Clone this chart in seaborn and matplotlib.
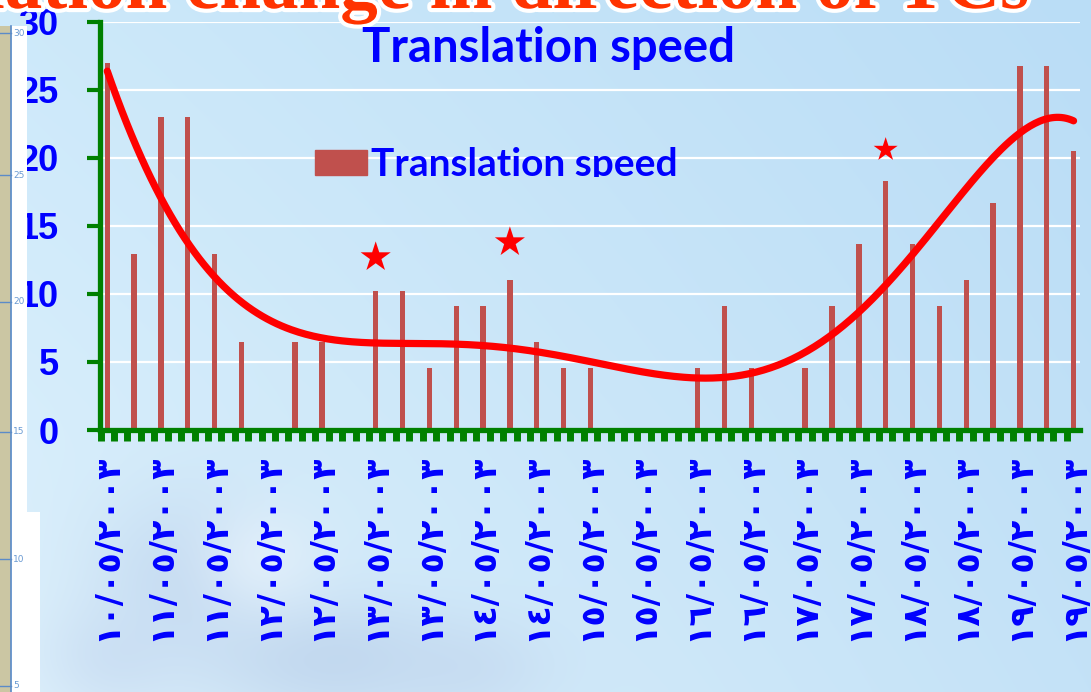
import numpy as np
import pandas as pd
import matplotlib
matplotlib.use("Agg")
import matplotlib.pyplot as plt
import matplotlib.patheffects as pe
import seaborn as sns
from matplotlib.patches import Patch, Rectangle
from matplotlib.lines import Line2D
from matplotlib.transforms import Affine2D, Bbox, TransformedBbox

# ---------------------------------------------------------------- data
# 6-hourly translation speed; None = no observation
speed = [27.0, 12.9, 23.0, 23.0, 12.9, 6.44, None, 6.44, 6.44, None,
         10.22, 10.22, 4.55, 9.14, 9.14, 11.0, 6.44, 4.55, 4.55, None,
         None, None, 4.55, 9.14, 4.55, None, 4.55, 9.14, 13.7, 18.3,
         13.7, 9.14, 11.03, 16.7, 26.77, 26.77, 20.49]

# day of month for every second slot (May 2003)
tick_days = [10, 11, 11, 12, 12, 13, 13, 14, 14, 15,
             15, 16, 16, 17, 17, 18, 18, 19, 19]

# highlighted slots
star_slots = [10, 15, 29]
star_values = [12.7, 13.8, 20.6]

series_name = "Translation speed"
chart_title = "Translation speed"
slide_title = "Translation change in direction of TCs"

AR_DIGITS = str.maketrans("0123456789", "٠١٢٣٤٥٦٧٨٩")
tick_labels = [f"{d:02d}/05/2003".translate(AR_DIGITS) for d in tick_days]

# ---------------------------------------------------------------- figure
W, H = 1091, 692
fig = plt.figure(figsize=(W / 100, H / 100), dpi=100)
pix = Affine2D().scale(1 / W, -1 / H).translate(0, 1) + fig.transFigure

# sky background
bg = fig.add_axes([0, 0, 1, 1], zorder=-10)
bg.set_axis_off()
u, v = np.meshgrid(np.linspace(0, 1, W), np.linspace(0, 1, H))
tl = np.array([205, 233, 250]) / 255
tr = np.array([186, 221, 246]) / 255
bl = np.array([222, 241, 252]) / 255
br = np.array([196, 226, 247]) / 255
img = ((1 - u)[..., None] * (1 - v)[..., None] * tl + u[..., None] * (1 - v)[..., None] * tr
       + (1 - u)[..., None] * v[..., None] * bl + u[..., None] * v[..., None] * br)
px_x, px_y = u * W, v * H
for cx, cy, sx, sy, col, a in [(190, 575, 70, 60, (182, 204, 233), 0.5),
                               (330, 660, 90, 45, (180, 202, 231), 0.55),
                               (470, 670, 60, 35, (192, 212, 237), 0.45),
                               (110, 660, 50, 40, (192, 212, 238), 0.45),
                               (260, 560, 45, 40, (235, 245, 253), 0.6)]:
    g = a * np.exp(-(((px_x - cx) / sx) ** 2 + ((px_y - cy) / sy) ** 2) / 2)
    img = img * (1 - g[..., None]) + np.array(col)[None, None, :] / 255 * g[..., None]
bg.imshow(np.clip(img, 0, 1), extent=(0, 1, 0, 1), aspect="auto", origin="upper")

# strip of a neighbouring map on the left edge
fig.add_artist(Rectangle((0, 26), 11, H - 26, transform=pix, color="#CBC6A3", lw=0))
fig.add_artist(Rectangle((12, 26), 15, 486, transform=pix, color="white", lw=0))
fig.add_artist(Rectangle((12, 512), 28, H - 512, transform=pix, color="white", lw=0))
fig.add_artist(Line2D([11, 11], [26, H], transform=pix, color="#5B8BC8", lw=1.2))
for yy, lab in zip([33, 175, 302, 432, 559, 686], ["30", "25", "20", "15", "10", "5"]):
    fig.add_artist(Line2D([0, 11], [yy, yy], transform=pix, color="#5B8BC8", lw=1.0))
    fig.text(13 / W, 1 - yy / H, lab, fontsize=6.5, color="#6A9AD2", va="center", ha="left")

# slide heading running off the top edge
fig.text(1030 / W, 1 - 8 / H, slide_title, ha="right", va="baseline",
         fontsize=54, fontweight="bold", color="#FF3300", family=["Liberation Serif", "DejaVu Serif"],
         path_effects=[pe.withStroke(linewidth=6, foreground="white")])

# ---------------------------------------------------------------- chart
ax = fig.add_axes([99.5 / W, 1 - 430 / H, (1080 - 99.5) / W, (430 - 21.8) / H])
ax.set_facecolor("none")

n = len(speed)
y = np.array([np.nan if s is None else s for s in speed], dtype=float)
df = pd.DataFrame({"slot": np.arange(n), "speed": y})

sns.barplot(data=df, x="slot", y="speed", order=list(range(n)), color="#C0504D",
            saturation=1, width=0.2, errorbar=None, linewidth=0, ax=ax, zorder=3)

# 6th-order polynomial trend; empty slots count as zero speed
xs = np.arange(n)
trend = np.polynomial.Polynomial.fit(xs, np.nan_to_num(y), 6)
xx = np.linspace(0, n - 1, 400)
sns.lineplot(x=xx, y=trend(xx), color="#FF0000", lw=5.2, ax=ax, zorder=4,
             solid_capstyle="round", legend=False)

ax.scatter(star_slots, star_values, marker="*", s=[520, 520, 330], color="#FF0000",
           linewidths=0, zorder=5, clip_on=False)

ax.set_xlabel("")
ax.set_ylabel("")

ax.set_yticks(np.arange(0, 31, 5))
ax.set_yticklabels([str(t) for t in range(0, 31, 5)], fontsize=26, fontweight="bold",
                   color="#0000FF", family=["Liberation Sans", "DejaVu Sans"])
ax.tick_params(axis="y", length=9.5, width=3, color="#008000", pad=20)

ax.set_xticks(np.arange(0, n, 2))
ax.set_xticklabels(tick_labels, rotation=90, fontsize=24, fontweight="bold",
                   color="#0000FF", family=["DejaVu Sans"])
ax.set_xticks(np.arange(-0.25, n - 0.5, 0.5), minor=True)
ax.tick_params(axis="x", which="major", length=0, pad=17)
ax.tick_params(axis="x", which="minor", length=8, width=5, color="#008000", direction="out")

# limits last so tick placement cannot widen them
ax.set_xlim(-0.29, n - 1 + 0.24)
ax.set_ylim(0, 30)

ax.yaxis.grid(True, color="white", lw=1.6)
ax.xaxis.grid(False)
ax.set_axisbelow(True)
for side in ("top", "right"):
    ax.spines[side].set_visible(False)
for side in ("left", "bottom"):
    ax.spines[side].set_color("#008000")
    ax.spines[side].set_linewidth(3.8)
    ax.spines[side].set_zorder(6)

fig.text(548 / W, 1 - 48 / H, chart_title, ha="center", va="center", fontsize=34,
         fontweight="bold", color="#0000FF", family=["Lato", "DejaVu Sans"])

leg_fs = 28
leg = ax.legend(handles=[Patch(color="#C0504D", label=series_name)], loc="upper left",
                bbox_to_anchor=(315 / W, 1 - 147 / H), bbox_transform=fig.transFigure,
                frameon=False, borderpad=0, borderaxespad=0,
                handlelength=52 / (leg_fs * 1.389), handleheight=24 / (leg_fs * 1.389),
                handletextpad=0.1, prop={"family": ["Lato", "DejaVu Sans"], "weight": "bold",
                                         "size": leg_fs})
clip = TransformedBbox(Bbox([[0, 1 - 177 / H], [1, 1]]), fig.transFigure)
for t in leg.get_texts():
    t.set_color("#0000FF")
    t.set_clip_box(clip)
    t.set_clip_on(True)

fig.savefig("out.png", dpi=100)
